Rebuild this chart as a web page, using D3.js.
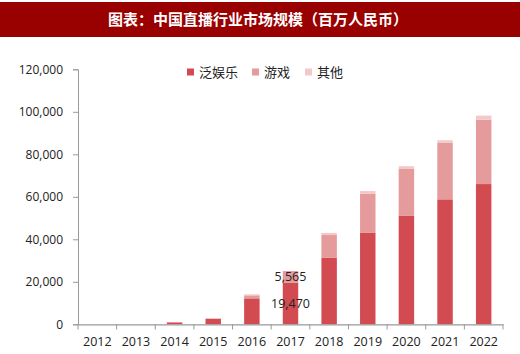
<!DOCTYPE html>
<html><head><meta charset="utf-8">
<script src="https://cdn.jsdelivr.net/npm/d3@7"></script>
<style>html,body{margin:0;padding:0;background:#fff;}svg{display:block;}</style>
</head><body>
<svg id="c" width="520" height="354"></svg>
<script>
const title = "图表：中国直播行业市场规模（百万人民币）";
const years = ["2012","2013","2014","2015","2016","2017","2018","2019","2020","2021","2022"];
const entertainment = [0, 0, 900, 2500, 12200, 19470, 31400, 43000, 51000, 58800, 66000];
const games = [0, 0, 150, 250, 1400, 5565, 10600, 18500, 22100, 26700, 30300];
const others = [0, 0, 50, 100, 500, 0, 1000, 1200, 1300, 1100, 1900];
const seriesNames = ["泛娱乐", "游戏", "其他"];
const seriesColors = ["#d24b50", "#e59a9b", "#f3c8c9"];
const yTicks = [0, 20000, 40000, 60000, 80000, 100000, 120000];
const labelYear = "2017";

const svg = d3.select("#c");
// title bar
svg.append("rect").attr("x",0).attr("y",2).attr("width",520).attr("height",35).attr("fill","#990000");
svg.append("text").attr("x",258).attr("y",25).attr("text-anchor","middle")
  .attr("fill","#fff").attr("font-family","'Noto Sans CJK SC'").attr("font-size",15).attr("font-weight","bold")
  .text(title);

const x = d3.scaleBand().domain(years).range([78,503]).paddingInner(0.6).paddingOuter(0.3);
const y = d3.scaleLinear().domain([0,120000]).range([324.3,69.3]);

const data = years.map((yr,i)=>({year:yr, e:entertainment[i], g:games[i], o:others[i]}));
const stack = d3.stack().keys(["e","g","o"])(data);

svg.append("g").selectAll("g").data(stack).join("g")
  .attr("fill",(d,i)=>seriesColors[i])
  .selectAll("rect").data(d=>d).join("rect")
  .attr("x",d=>x(d.data.year)).attr("width",x.bandwidth())
  .attr("y",d=>y(d[1])).attr("height",d=>Math.max(0,y(d[0])-y(d[1])));

// y axis
const yAxis = svg.append("g").attr("transform","translate(78,0)")
  .call(d3.axisLeft(y).tickValues(yTicks).tickSize(5).tickPadding(10).tickFormat(d3.format(",")));
yAxis.select(".domain").attr("stroke","#999");
yAxis.selectAll(".tick line").attr("stroke","#999");
yAxis.selectAll("text").attr("fill","#222").attr("font-family","'Open Sans', sans-serif").attr("font-size",12);

// x axis
const xAxis = svg.append("g").attr("transform","translate(0,324.3)")
  .call(d3.axisBottom(x).tickSize(0).tickPadding(13));
xAxis.select(".domain").attr("stroke","#999").attr("stroke-width",1.3);
xAxis.selectAll("text").attr("fill","#222").attr("font-family","'Open Sans', sans-serif").attr("font-size",12.5);
const bounds = years.map(yr=>x(yr)-x.step()*x.paddingInner()/2).concat([503]);
bounds[0]=78;
svg.append("g").selectAll("line").data(bounds).join("line")
  .attr("x1",d=>d).attr("x2",d=>d).attr("y1",324.3).attr("y2",329.5).attr("stroke","#999");

// data labels for 2017
const li = years.indexOf(labelYear);
const lbl = svg.append("g").attr("font-family","'Open Sans', sans-serif").attr("font-size",12.5).attr("fill","#222").attr("text-anchor","middle");
lbl.append("text").attr("x",x(labelYear)+x.bandwidth()/2).attr("y",(y(0)+y(entertainment[li]))/2).attr("dy","0.35em").text(d3.format(",")(entertainment[li]));
lbl.append("text").attr("x",x(labelYear)+x.bandwidth()/2).attr("y",(y(entertainment[li])+y(entertainment[li]+games[li]))/2).attr("dy","0.35em").text(d3.format(",")(games[li]));

// legend
const legX = [187, 252, 305];
const leg = svg.append("g");
seriesNames.forEach((n,i)=>{
  leg.append("rect").attr("x",legX[i]).attr("y",68.5).attr("width",7).attr("height",7).attr("fill",seriesColors[i]);
  leg.append("text").attr("x",legX[i]+12).attr("y",77).attr("font-family","'Noto Sans CJK SC'").attr("font-size",13).attr("fill","#222").text(n);
});
</script>
</body></html>
